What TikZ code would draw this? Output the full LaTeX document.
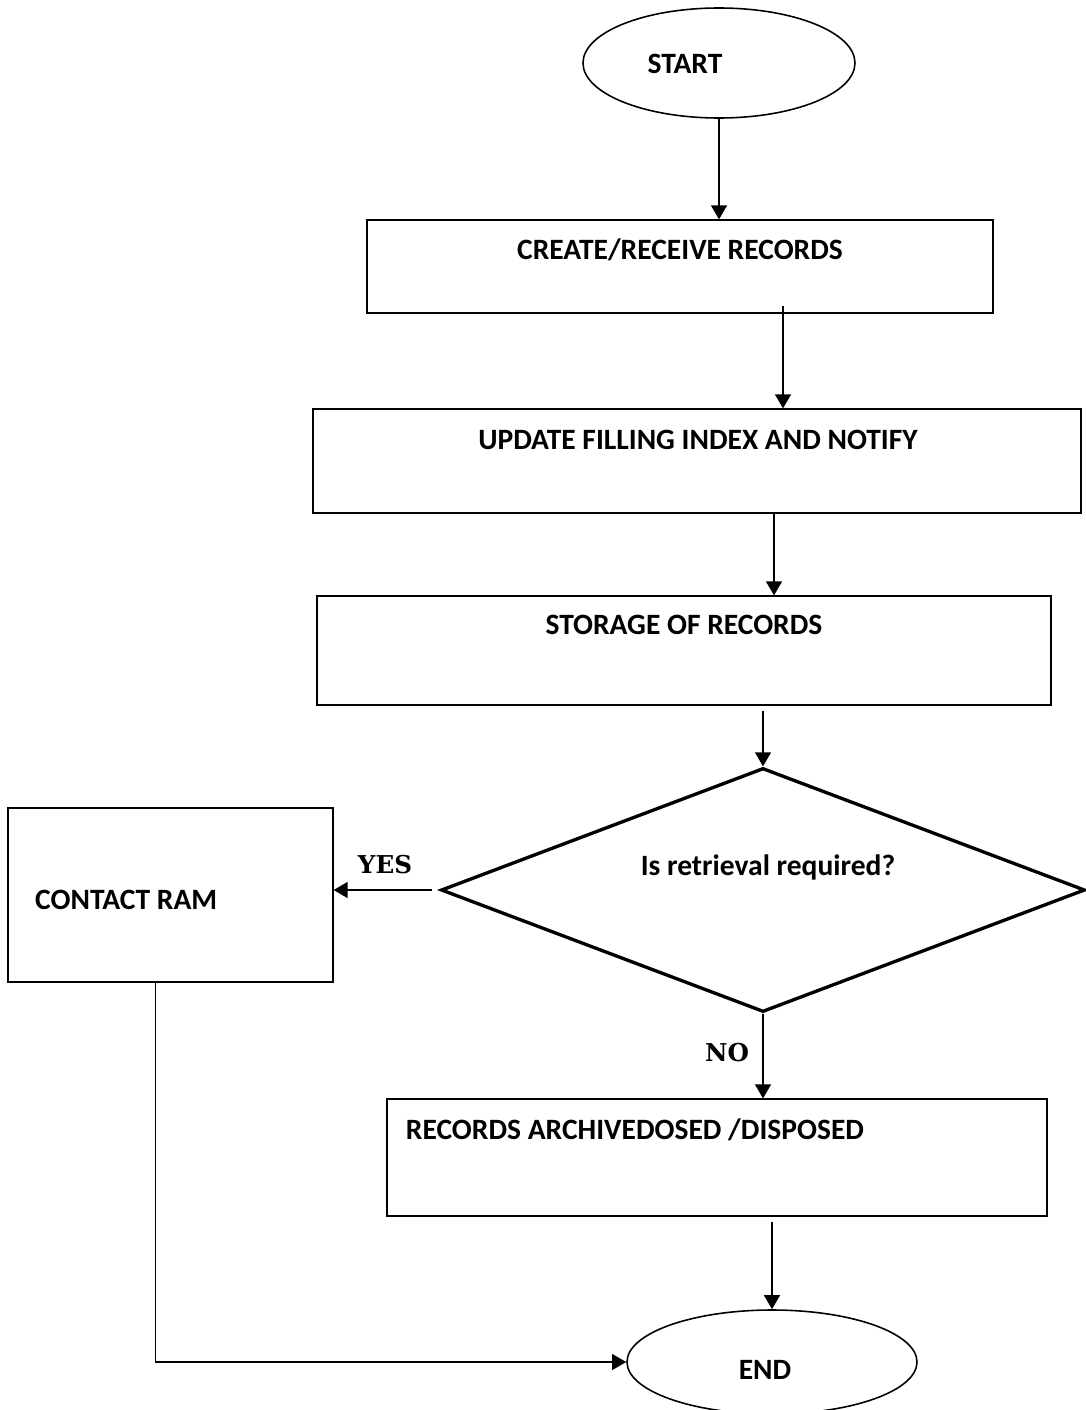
\documentclass[tikz,border=0pt]{standalone}
\usepackage{fontspec}
\setmainfont{Carlito}
\newfontfamily\answerfont{DejaVu Serif}
\usepackage{tikz}
\usetikzlibrary{arrows.meta,shapes.geometric}

\begin{document}
\begin{tikzpicture}[->,>={Triangle[length=8pt,width=9pt]},
    flowbox/.style={rectangle, draw, line width=0.7pt, inner sep=0pt},
    terminal/.style={ellipse, draw, line width=0.9pt, inner sep=0pt},
    decision/.style={diamond, draw, line width=1.9pt, inner sep=0pt},
    boxtext/.style={font=\bfseries\fontsize{16.8}{19}\selectfont},
    answer/.style={font=\answerfont\bfseries\fontsize{14}{16}\selectfont},
    flow/.style={line width=1.2pt}]

    \useasboundingbox (0,0) rectangle (21.72,-28.2);

    \node[terminal,
          minimum width = 5.44cm,
          minimum height = 2.2cm
          ] (start) at (14.38,-1.26) {};
    \node[boxtext] at (13.70,-1.28) {START};

    \node[flowbox,
          minimum width = 12.52cm,
          minimum height = 1.86cm
          ] (create) at (13.60,-5.33) {};
    \node[boxtext] at (13.60,-5.00) {CREATE/RECEIVE RECORDS};

    \node[flowbox,
          minimum width = 15.36cm,
          minimum height = 2.08cm
          ] (update) at (13.94,-9.22) {};
    \node[boxtext] at (13.96,-8.80) {UPDATE FILLING INDEX AND NOTIFY};

    \node[flowbox,
          minimum width = 14.68cm,
          minimum height = 2.18cm
          ] (storage) at (13.68,-13.01) {};
    \node[boxtext] at (13.68,-12.50) {STORAGE OF RECORDS};

    \node[decision,
          minimum width = 12.88cm,
          minimum height = 4.88cm
          ] (retrieval) at (15.26,-17.80) {};
    \node[boxtext] at (15.36,-17.34) {Is retrieval required?};

    \node[flowbox,
          minimum width = 6.5cm,
          minimum height = 3.48cm
          ] (contact) at (3.41,-17.90) {};
    \node[boxtext, anchor=west] at (0.58,-18.00) {CONTACT RAM};

    \node[flowbox,
          minimum width = 13.2cm,
          minimum height = 2.34cm
          ] (archive) at (14.34,-23.15) {};
    \node[boxtext] at (12.70,-22.60) {RECORDS ARCHIVEDOSED /DISPOSED};

    \node[terminal,
          minimum width = 5.8cm,
          minimum height = 2.08cm
          ] (end) at (15.44,-27.24) {};
    \node[boxtext] at (15.30,-27.40) {END};

    \node[answer] (yes) at (7.70,-17.30) {YES};
    \node[answer] (no) at (14.54,-21.06) {NO};

    \coordinate (afterCreate) at (15.66,-6.12);

    \path[flow]
    %main line
    (start.south) edge [] (start.south |- create.north)
    (afterCreate) edge [] (afterCreate |- update.north)
    ([xshift=1.54cm]update.south) edge [] ([xshift=1.54cm]update.south |- storage.north)
    ([yshift=-0.1cm]retrieval.north |- storage.south) edge [] (retrieval.north)
    %answers
    ([xshift=-0.14cm]retrieval.west) edge [] (retrieval.west -| contact.east)
    (retrieval.south) edge [] (retrieval.south |- archive.north)
    ([yshift=-0.1cm]archive.south -| end.north) edge [] (end.north);

    \draw[flow, line width=0.9pt] ([xshift=-0.30cm]contact.south) |- (end.west);

\end{tikzpicture}
\end{document}
